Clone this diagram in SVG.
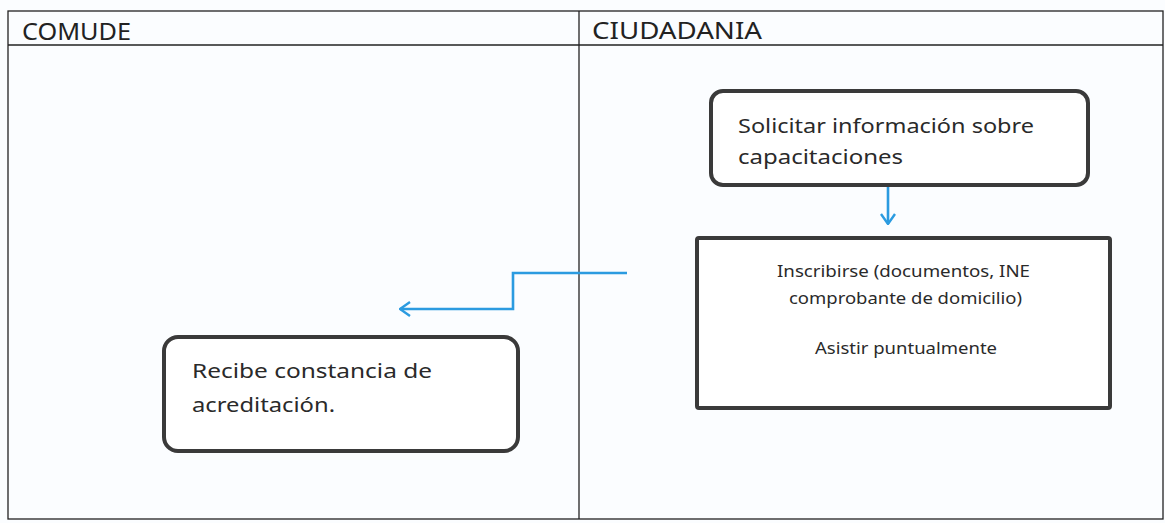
<svg xmlns="http://www.w3.org/2000/svg" width="1165" height="523" viewBox="0 0 1165 523">
<defs>
<style>
.grid{stroke:#222;stroke-width:1.3;fill:none}
.hdr{font-family:"Noto Sans","Liberation Sans",sans-serif;font-size:23px;fill:#222}
.t{font-family:"Noto Sans","Liberation Sans",sans-serif;font-size:20.5px;fill:#2a2a2a}
.s{font-family:"Noto Sans","Liberation Sans",sans-serif;font-size:16.5px;fill:#2a2a2a}
.box{fill:#fff;stroke:#3a3a3a;stroke-width:4}
.con{stroke:#2b9be0;stroke-width:2.6;fill:none}
</style>
<marker id="ah" viewBox="0 0 12 16" refX="11" refY="8" markerWidth="12" markerHeight="16" markerUnits="userSpaceOnUse" orient="auto">
<path d="M1,1 L11,8 L1,15" fill="none" stroke="#2b9be0" stroke-width="2.4"/>
</marker>
</defs>
<rect width="1165" height="523" fill="#fbfdff"/>
<g id="table">
<rect class="grid" x="8" y="11" width="1155" height="508"/>
<line class="grid" x1="8" y1="45" x2="1163" y2="45" stroke-width="1.6"/>
<line class="grid" x1="579" y1="11" x2="579" y2="519"/>
<text class="hdr" x="22" y="40" textLength="109" lengthAdjust="spacingAndGlyphs">COMUDE</text>
<text class="hdr" x="592" y="39" textLength="170" lengthAdjust="spacingAndGlyphs">CIUDADANIA</text>
</g>
<g id="node-solicitar">
<rect class="box" x="711" y="91" width="377" height="94" rx="12"/>
<text class="t" x="738" y="133" textLength="296" lengthAdjust="spacingAndGlyphs">Solicitar información sobre</text>
<text class="t" x="738" y="164" textLength="165" lengthAdjust="spacingAndGlyphs">capacitaciones</text>
</g>
<g id="node-inscribirse">
<rect class="box" x="697" y="238" width="413" height="170" rx="2"/>
<text class="s" x="777" y="277" textLength="253" lengthAdjust="spacingAndGlyphs">Inscribirse (documentos, INE</text>
<text class="s" x="789" y="304" textLength="233" lengthAdjust="spacingAndGlyphs">comprobante de domicilio)</text>
<text class="s" x="815" y="354" textLength="182" lengthAdjust="spacingAndGlyphs">Asistir puntualmente</text>
</g>
<g id="node-recibe">
<rect class="box" x="164" y="337" width="354" height="114" rx="14"/>
<text class="t" x="192" y="378" textLength="240" lengthAdjust="spacingAndGlyphs">Recibe constancia de</text>
<text class="t" x="192" y="412" textLength="143" lengthAdjust="spacingAndGlyphs">acreditación.</text>
</g>
<g id="connectors">
<path class="con" d="M888,187 V224" marker-end="url(#ah)"/>
<path class="con" d="M627,273 H513 V309 H400" marker-end="url(#ah)"/>
</g>
</svg>
